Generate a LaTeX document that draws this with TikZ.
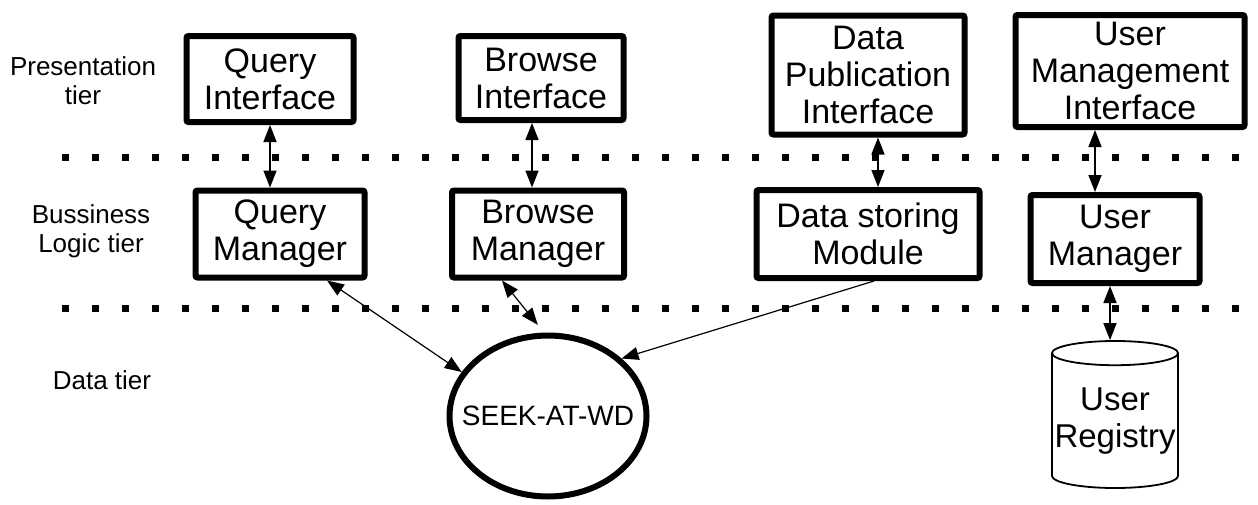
\documentclass[tikz,border=0pt]{standalone}
\usepackage{fontspec}
\setmainfont{Liberation Sans}
\usetikzlibrary{shapes.geometric,arrows.meta}

\begin{document}
\begin{tikzpicture}[x=1pt,y=-1pt,
    tierbox/.style={draw,line width=6pt,rounded corners=2pt,align=center,inner sep=0pt,font=\fontsize{34}{37}\selectfont},
    tierlabel/.style={align=center,font=\fontsize{26}{29}\selectfont},
    link/.style={line width=1.6pt,{Triangle[length=17pt,width=13pt]}-{Triangle[length=17pt,width=13pt]}},
    tiersep/.style={line width=7pt,dash pattern=on 7pt off 23pt}]
    \useasboundingbox (0,0) rectangle (1258,504);

    % tier labels
    \node [tierlabel] (pres) at (83,81) {Presentation\\tier};
    \node [tierlabel] (logic) at (91,231) {Bussiness\\Logic tier};
    \node [tierlabel] (data) at (102,380) {Data tier};

    \draw [tiersep] (62,157) -- (1258,157);
    \draw [tiersep] (62,308) -- (1258,308);

    % presentation tier
    \node [tierbox,minimum width=167pt,minimum height=86pt] (qi) at (270,79) {Query\\Interface};
    \node [tierbox,minimum width=165pt,minimum height=84pt] (bi) at (541,78) {Browse\\Interface};
    \node [tierbox,minimum width=193pt,minimum height=119pt] (dpi) at (868,75) {Data\\Publication\\Interface};
    \node [tierbox,minimum width=229pt,minimum height=112pt] (umi) at (1130,71) {User\\Management\\Interface};

    % business logic tier
    \node [tierbox,minimum width=169pt,minimum height=87pt] (qm) at (280,234) {Query\\Manager};
    \node [tierbox,minimum width=172pt,minimum height=87pt] (bm) at (538,234) {Browse\\Manager};
    \node [tierbox,minimum width=223pt,minimum height=88pt] (dsm) at (868,234) {Data storing\\Module};
    \node [tierbox,minimum width=169pt,minimum height=88pt] (um) at (1115,239) {User\\Manager};

    % data tier
    \node [draw,ellipse,line width=6pt,minimum width=197pt,minimum height=161pt,inner sep=0pt,
           font=\fontsize{28}{30}\selectfont] (seek) at (548,416) {\makebox[0pt]{SEEK-AT-WD}};
    \node [draw,cylinder,shape border rotate=90,aspect=0.2,line width=1.8pt,minimum width=126pt,
           minimum height=147pt,align=center,inner sep=0pt,font=\fontsize{33}{37}\selectfont] (reg) at (1115,421) {User\\Registry};

    \draw [link] (qi.south) -- (qi.south |- qm.north);
    \draw [link] ([xshift=-9pt]bi.south) -- ([xshift=-9pt]bi.south |- bm.north);
    \draw [link] ([xshift=10pt]dpi.south) -- ([xshift=10pt]dpi.south |- dsm.north);
    \draw [link] ([xshift=-35pt]umi.south) -- ([xshift=-35pt]umi.south |- um.north);
    \draw [link] ([xshift=-5pt]um.south) -- ([xshift=-5pt]um.south |- reg.top);

    \draw [link,line width=1.2pt] ([xshift=47pt]qm.south) -- (seek.153);
    \draw [link,line width=1.2pt] ([xshift=-36pt]bm.south) -- ([yshift=8pt]seek.97);
    \draw [line width=1.2pt,-{Triangle[length=17pt,width=13pt]}] ([xshift=6pt]dsm.south) -- (seek.38);
\end{tikzpicture}
\end{document}
